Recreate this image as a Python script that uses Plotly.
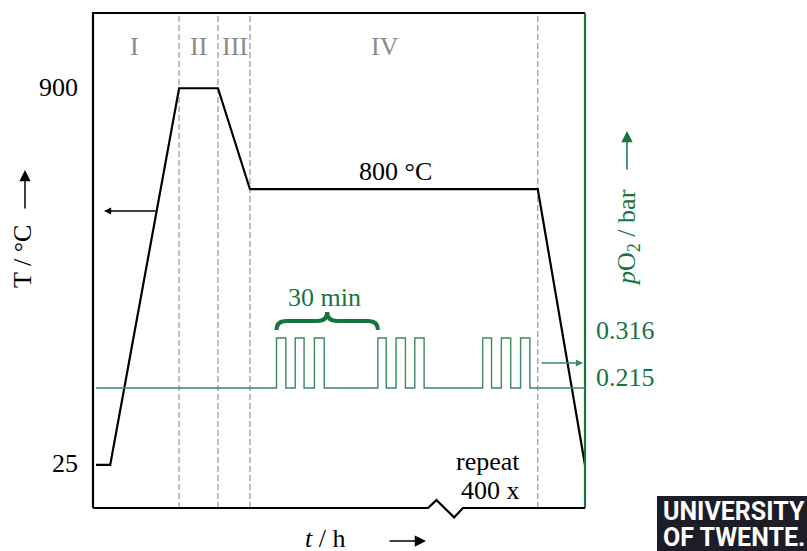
import plotly.graph_objects as go

# ---------------- data (schematic diagram) ----------------
# time axis in schematic units (0 = left frame, 100 = right frame)
time_pts = [0.6, 3.5, 17.5, 25.4, 31.9, 90.4, 100.0]
temp_C = [25, 25, 900, 900, 800, 800, 25]
# schematic vertical level (0 = bottom frame, 100 = top frame) of each temperature
temp_level = {25: 8.7, 900: 84.8, 800: 64.4}
temp_ticks = [25, 900]

phase_bounds = [17.5, 25.4, 31.9, 90.4]
phase_names = ["I", "II", "III", "IV"]
phase_label_x = [8.5, 21.5, 28.9, 59.3]

pulse_on = [37.3, 41.1, 45.0, 57.9, 61.6, 65.4, 79.2, 83.0, 86.9]
pulse_off = [39.2, 42.9, 47.0, 59.6, 63.5, 67.3, 81.0, 84.9, 88.8]
pO2_base = 0.215
pO2_high = 0.316
pO2_ticks = [0.316, 0.215]
pO2_tick_shift = [8, 11]
pulse_period_groups = [37.3, 57.9]  # start of 1st and 2nd pulse groups (30 min)

# ---------------- styling ----------------
SERIF = "Liberation Serif, Times New Roman, serif"
FS = 26
BLACK = "#000000"
GREEN_TXT = "#17743f"
GREEN_LINE = "#3a8a5c"
GRAY = "#8a8a8a"

# layout geometry: frame 0..100 maps to px 93..585 (x) and 508..13 (y)
PL, PR, PT, PB = 85, 595, 5, 520
W, H = 807, 551
sx = (585 - 93) / 100.0
sy = (508 - 13) / 100.0
x_range = [(PL - 93) / sx, (PR - 93) / sx]
y_range = [(508 - PB) / sy, (508 - PT) / sy]
# pO2 axis: 0.215 at px 388, 0.316 at px 338
k = (pO2_high - pO2_base) / (388 - 338)
y2_range = [pO2_base + (388 - PB) * k, pO2_base + (388 - PT) * k]


def px2paper_x(px):
    return (px - PL) / (PR - PL)


def px2paper_y(py):
    return (PB - py) / (PB - PT)


fig = go.Figure()

# phase boundaries (dashed)
for xb in phase_bounds:
    fig.add_trace(go.Scatter(x=[xb, xb], y=[0, 100], mode="lines",
                             line=dict(color="#a0a0a0", width=1.3, dash="6px,3px"),
                             hoverinfo="skip", showlegend=False))

# pO2 pulses
px_, py_ = [time_pts[0]], [pO2_base]
for on, off in zip(pulse_on, pulse_off):
    px_ += [on, on, off, off]
    py_ += [pO2_base, pO2_high, pO2_high, pO2_base]
px_.append(100.0)
py_.append(pO2_base)
fig.add_trace(go.Scatter(x=px_, y=py_, yaxis="y2", mode="lines",
                         line=dict(color=GREEN_LINE, width=1.4),
                         hoverinfo="skip", showlegend=False))

# temperature profile
fig.add_trace(go.Scatter(x=time_pts, y=[temp_level[t] for t in temp_C], mode="lines",
                         line=dict(color=BLACK, width=2.2),
                         hoverinfo="skip", showlegend=False))

# frame
fig.add_trace(go.Scatter(x=[0, 0, 100], y=[0, 100, 100], mode="lines",
                         line=dict(color=BLACK, width=2.2), hoverinfo="skip", showlegend=False))
fig.add_trace(go.Scatter(x=[100, 100], y=[0, 100], mode="lines",
                         line=dict(color=GREEN_TXT, width=2.2), hoverinfo="skip", showlegend=False))
fig.add_trace(go.Scatter(x=[0, 68.1, 69.8, 73.4, 75.2, 100], y=[0, 0, 1.6, -1.9, 0, 0],
                         mode="lines", line=dict(color=BLACK, width=2.2),
                         hoverinfo="skip", showlegend=False))

ann = []
# phase labels
for name, xl in zip(phase_names, phase_label_x):
    ann.append(dict(x=xl, y=93.3, xref="x", yref="y", text=name, showarrow=False,
                    xanchor="center", yanchor="middle",
                    font=dict(family=SERIF, size=FS, color=GRAY)))
# temperature tick labels
for t in temp_ticks:
    ann.append(dict(x=px2paper_x(80), y=temp_level[t], xref="paper", yref="y", text=str(t),
                    showarrow=False, xanchor="right", yanchor="middle", yshift=1,
                    font=dict(family=SERIF, size=FS, color=BLACK)))
# pO2 tick labels
for v, sh in zip(pO2_ticks, pO2_tick_shift):
    ann.append(dict(x=px2paper_x(594), y=v, xref="paper", yref="y2", text=f"{v:.3f}",
                    showarrow=False, xanchor="left", yanchor="middle", yshift=sh,
                    font=dict(family=SERIF, size=FS, color=GREEN_TXT)))
# 800 °C label
ann.append(dict(x=61.4, y=temp_level[800], xref="x", yref="y", text="800 °C", showarrow=False,
                xanchor="center", yanchor="middle", yshift=18,
                font=dict(family=SERIF, size=FS, color=BLACK)))
# repeat 400 x
ann.append(dict(x=(522 - 93) / sx, y=(508 - 461) / sy, xref="x", yref="y", text="repeat",
                showarrow=False, xanchor="right", yanchor="middle",
                font=dict(family=SERIF, size=FS, color=BLACK)))
ann.append(dict(x=(522 - 93) / sx, y=(508 - 490) / sy, xref="x", yref="y", text="400 x",
                showarrow=False, xanchor="right", yanchor="middle",
                font=dict(family=SERIF, size=FS, color=BLACK)))
# 30 min label
brace_mid = (pulse_period_groups[0] + pulse_period_groups[1]) / 2
ann.append(dict(x=brace_mid - 0.6, y=(508 - 297) / sy, xref="x", yref="y", text="30 min",
                showarrow=False, xanchor="center", yanchor="middle",
                font=dict(family=SERIF, size=FS, color=GREEN_TXT)))

# in-plot arrows
ann.append(dict(x=(104 - 93) / sx, y=(508 - 211) / sy, xref="x", yref="y",
                ax=(157 - 93) / sx, ay=(508 - 211) / sy, axref="x", ayref="y",
                showarrow=True, arrowhead=2, arrowsize=1.1, arrowwidth=1.3, arrowcolor=BLACK, text=""))
ann.append(dict(x=99.6, y=(508 - 363) / sy, xref="x", yref="y",
                ax=(540 - 93) / sx, ay=(508 - 363) / sy, axref="x", ayref="y",
                showarrow=True, arrowhead=2, arrowsize=1.1, arrowwidth=1.3, arrowcolor=GREEN_LINE, text=""))

# axis titles
ann.append(dict(x=px2paper_x(22), y=px2paper_y(257), xref="paper", yref="paper", text="T / °C",
                textangle=-90, showarrow=False, xanchor="center", yanchor="middle",
                font=dict(family=SERIF, size=FS, color=BLACK)))
ann.append(dict(x=px2paper_x(25), y=px2paper_y(170), xref="paper", yref="paper", text="",
                ax=0, ay=40, showarrow=True, arrowhead=2, arrowsize=1.5, arrowwidth=1.5,
                arrowcolor=BLACK))
ann.append(dict(x=px2paper_x(628), y=px2paper_y(238), xref="paper", yref="paper",
                text="<i>p</i>O<sub>2</sub> / bar", textangle=-90, showarrow=False,
                xanchor="center", yanchor="middle",
                font=dict(family=SERIF, size=FS, color=GREEN_TXT)))
ann.append(dict(x=px2paper_x(627), y=px2paper_y(131), xref="paper", yref="paper", text="",
                ax=0, ay=40, showarrow=True, arrowhead=2, arrowsize=1.5, arrowwidth=1.5,
                arrowcolor=GREEN_TXT))
ann.append(dict(x=px2paper_x(325), y=px2paper_y(538), xref="paper", yref="paper",
                text="<i>t</i> / h", showarrow=False, xanchor="center", yanchor="middle",
                font=dict(family=SERIF, size=FS, color=BLACK)))
ann.append(dict(x=px2paper_x(426), y=px2paper_y(541), xref="paper", yref="paper", text="",
                ax=-38, ay=0, showarrow=True, arrowhead=2, arrowsize=1.5, arrowwidth=1.5,
                arrowcolor=BLACK))

# logo
LOGO_FONT = dict(family="Roboto, Liberation Sans, sans-serif", size=25, color="white")
ann.append(dict(x=px2paper_x(661), y=px2paper_y(511), xref="paper", yref="paper",
                text="<b>UNIVERSITY</b>", showarrow=False, xanchor="left", yanchor="middle",
                font=LOGO_FONT))
ann.append(dict(x=px2paper_x(661), y=px2paper_y(537), xref="paper", yref="paper",
                text="<b>OF TWENTE.</b>", showarrow=False, xanchor="left", yanchor="middle",
                font=LOGO_FONT))

# brace over one 30-min period
x0, x1 = pulse_period_groups
xm = (x0 + x1) / 2
yb, ymid, ypk = (508 - 330) / sy, (508 - 321) / sy, (508 - 312) / sy
d = 2.0
brace = (f"M{x0},{yb} Q{x0},{ymid} {x0 + d},{ymid} L{xm - d},{ymid} "
         f"Q{xm},{ymid} {xm},{ypk} Q{xm},{ymid} {xm + d},{ymid} "
         f"L{x1 - d},{ymid} Q{x1},{ymid} {x1},{yb}")
shapes = [
    dict(type="path", path=brace, xref="x", yref="y", line=dict(color=GREEN_TXT, width=4)),
    dict(type="rect", xref="paper", yref="paper", x0=px2paper_x(657), x1=px2paper_x(808),
         y0=px2paper_y(552), y1=px2paper_y(496), fillcolor="#1c1d27", line=dict(width=0),
         layer="below"),
]

fig.update_layout(
    width=W, height=H,
    margin=dict(l=PL, r=W - PR, t=PT, b=H - PB),
    paper_bgcolor="white", plot_bgcolor="white",
    xaxis=dict(range=x_range, visible=False, fixedrange=True),
    yaxis=dict(range=y_range, visible=False, fixedrange=True),
    yaxis2=dict(range=y2_range, visible=False, overlaying="y", fixedrange=True),
    annotations=ann, shapes=shapes, showlegend=False,
)

fig.write_html("out.html")
